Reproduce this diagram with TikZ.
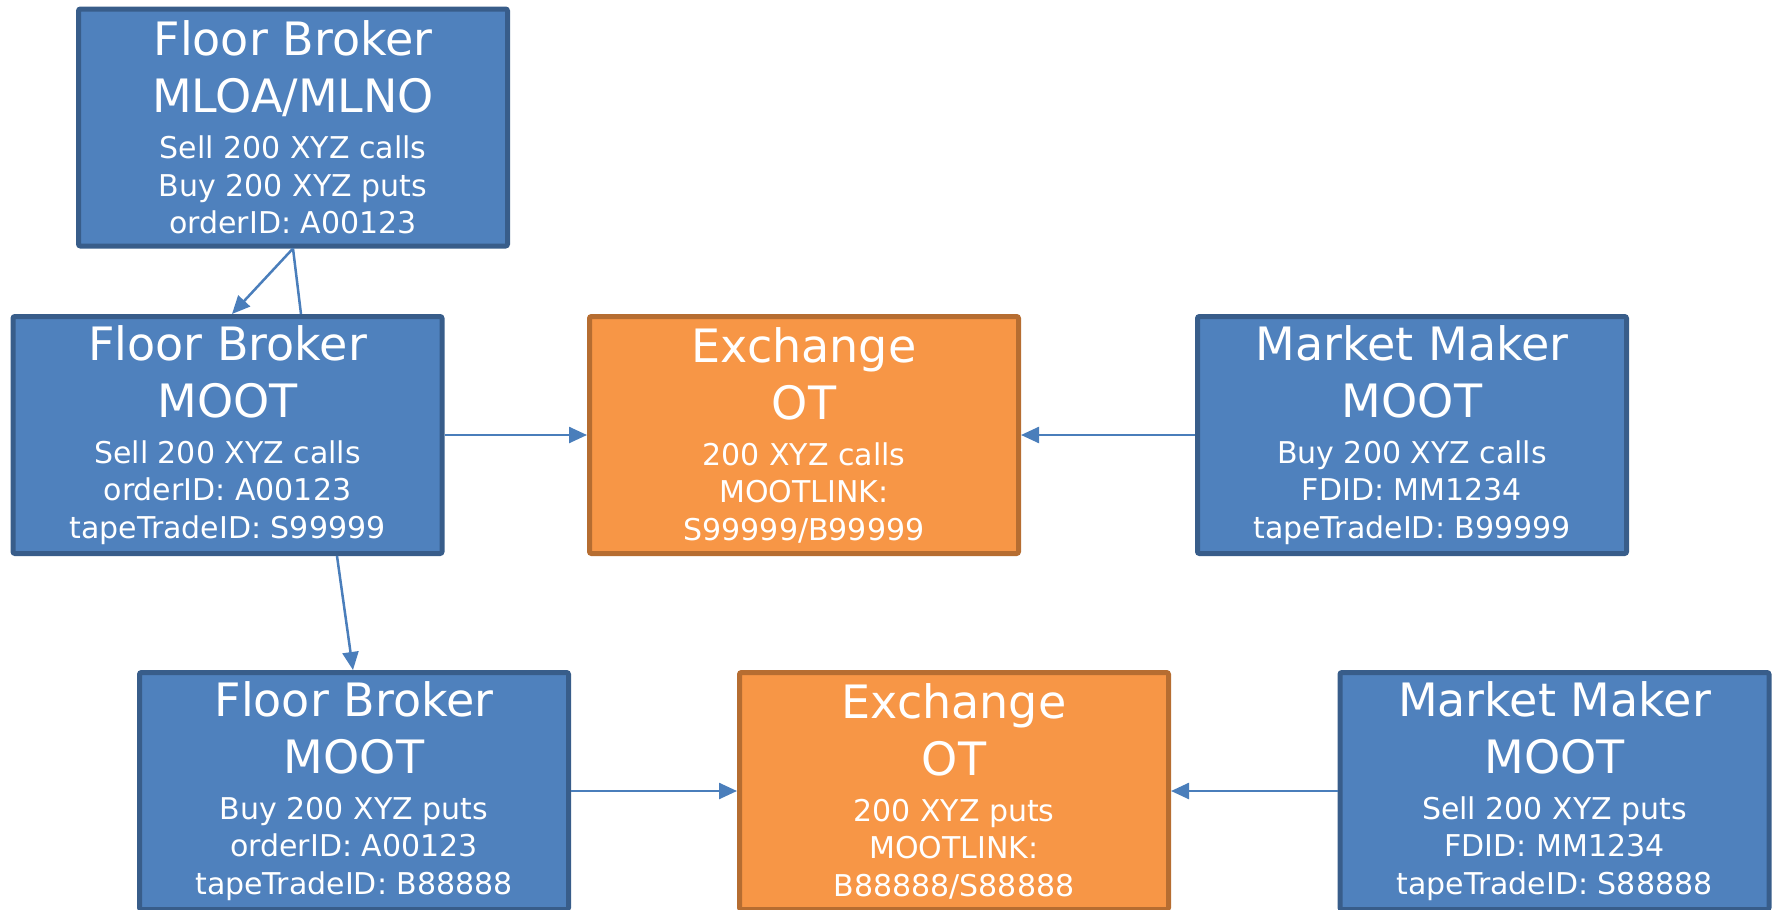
\documentclass[tikz,border=0pt]{standalone}
\usepackage{fontspec}
\setmainfont{DejaVu Sans}
\usetikzlibrary{arrows.meta}
\definecolor{bluefill}{HTML}{4F81BD}
\definecolor{blueline}{HTML}{385D8A}
\definecolor{orangefill}{HTML}{F79646}
\definecolor{orangeline}{HTML}{B66D31}
\definecolor{linkblue}{HTML}{4A7EBB}
\newcommand\titlesize{\fontsize{46}{57}\selectfont}
\newcommand\bodysize{\fontsize{30}{37.5}\selectfont}
\newcommand\boxtext[2]{{\titlesize #1\par}\vspace{8.5pt}{\bodysize #2\par}}
\begin{document}
\begin{tikzpicture}[x=1pt,y=-1pt,
  card/.style={line width=5pt, rounded corners=2pt, inner sep=0pt,
    minimum width=429pt, minimum height=237pt, text width=420pt,
    align=flush center, text=white},
  partybox/.style={card, draw=blueline, fill=bluefill},
  exchbox/.style={card, draw=orangeline, fill=orangefill},
  conn/.style={draw=linkblue, line width=2.5pt},
  arr/.style={conn, -{Triangle[length=18pt,width=16pt]}}]
\useasboundingbox (0,0) rectangle (1773,910);
\clip (0,0) rectangle (1773,910);

% originating order
\node[partybox] (fbtop) at (293,127.5)
  {\boxtext{Floor Broker\\MLOA/MLNO}{Sell 200 XYZ calls\\Buy 200 XYZ puts\\orderID: A00123}};

% calls leg
\node[partybox] (fbcall) at (227.5,435)
  {\boxtext{Floor Broker\\MOOT}{Sell 200 XYZ calls\\orderID: A00123\\tapeTradeID: S99999}};
\node[exchbox] (excall) at (804,435)
  {\boxtext{Exchange\\OT}{200 XYZ calls\\MOOTLINK:\\S99999/B99999}};
\node[partybox] (mmcall) at (1412,435)
  {\boxtext{Market Maker\\MOOT}{Buy 200 XYZ calls\\FDID: MM1234\\tapeTradeID: B99999}};

% puts leg
\node[partybox] (fbput) at (354,791)
  {\boxtext{Floor Broker\\MOOT}{Buy 200 XYZ puts\\orderID: A00123\\tapeTradeID: B88888}};
\node[exchbox] (exput) at (954,791)
  {\boxtext{Exchange\\OT}{200 XYZ puts\\MOOTLINK:\\B88888/S88888}};
\node[partybox] (mmput) at (1554.5,791)
  {\boxtext{Market Maker\\MOOT}{Sell 200 XYZ puts\\FDID: MM1234\\tapeTradeID: S88888}};

% connectors
\draw[arr] (fbtop.south) -- ([xshift=4.5pt]fbcall.north);
\draw[conn] (fbtop.south) -- ([xshift=73.5pt]fbcall.north);
\draw[arr] (fbcall.east) -- (excall.west);
\draw[arr] (mmcall.west) -- (excall.east);
\draw[arr] ([xshift=109.5pt]fbcall.south) -- ([xshift=-1pt]fbput.north);
\draw[arr] (fbput.east) -- (exput.west);
\draw[arr] (mmput.west) -- (exput.east);
\end{tikzpicture}
\end{document}
